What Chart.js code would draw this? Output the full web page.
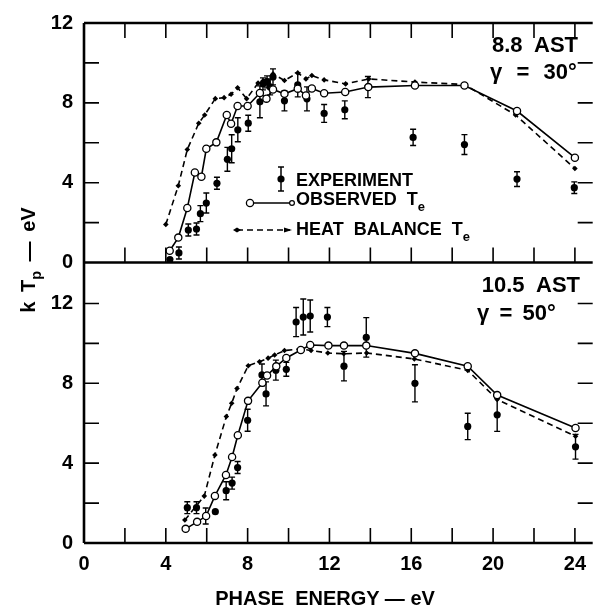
<!DOCTYPE html>
<html><head><meta charset="utf-8">
<script src="https://cdn.jsdelivr.net/npm/chart.js@4"></script>
<style>
html,body{margin:0;padding:0;background:#fff;}
#wrap{position:relative;width:598px;height:612px;overflow:hidden;font-family:"Liberation Sans",Arial,sans-serif;font-weight:bold;color:#000;}
#c{position:absolute;left:0;top:0;}
.t{position:absolute;white-space:pre;line-height:1;}
.sub{font-size:0.72em;position:relative;top:0.45em;}
#leg{position:absolute;left:0;top:0;}
</style></head><body>
<div id="wrap">
<canvas id="c" width="598" height="612"></canvas>
<svg id="leg" width="598" height="612">
  <line x1="281" y1="167" x2="281" y2="191" stroke="#000" stroke-width="1.5"/>
  <line x1="278" y1="167" x2="284" y2="167" stroke="#000" stroke-width="1.5"/>
  <line x1="278" y1="191" x2="284" y2="191" stroke="#000" stroke-width="1.5"/>
  <circle cx="281" cy="179" r="3.6" fill="#000"/>
  <line x1="250" y1="203" x2="292" y2="203" stroke="#000" stroke-width="1.6"/>
  <circle cx="250" cy="203" r="3.6" fill="#fff" stroke="#000" stroke-width="1.3"/>
  <circle cx="292" cy="203" r="2.4" fill="#fff" stroke="#000" stroke-width="1.2"/>
  <line x1="237" y1="230" x2="290" y2="230" stroke="#000" stroke-width="1.6" stroke-dasharray="6,4"/>
  <path d="M233,230 L237,227.5 L241,230 L237,232.5 Z" fill="#000"/>
  <path d="M284,227.5 L292,230 L284,232.5 Z" fill="#000"/>
</svg>
<div class="t" style="left:296px;top:171px;font-size:18px;">EXPERIMENT</div>
<div class="t" style="left:296px;top:190px;font-size:18px;">OBSERVED  T<span class="sub">e</span></div>
<div class="t" style="left:296px;top:220px;font-size:18px;">HEAT  BALANCE  T<span class="sub">e</span></div>
<div class="t" style="right:20px;top:34px;font-size:22px;">8.8  AST</div>
<div class="t" style="left:490px;top:61px;font-size:22px;word-spacing:1px;">γ  =  30°</div>
<div class="t" style="right:18px;top:274px;font-size:22px;">10.5  AST</div>
<div class="t" style="left:477px;top:302px;font-size:22px;word-spacing:-1px;">γ  =  50°</div>
<div class="t" style="left:325px;top:588px;font-size:20px;transform:translateX(-50%);">PHASE  ENERGY — eV</div>
<div class="t" style="left:28px;top:260px;font-size:20px;word-spacing:4px;transform:translate(-50%,-50%) rotate(-90deg);">k T<span class="sub">p</span> — eV</div>
</div>
<script>
// ---- Data ----
// Top panel: 8.8 AST, gamma = 30 deg
const topExpEnergy = [4.2, 4.64, 5.1, 5.5, 5.69, 5.98, 6.5, 7.01, 7.22, 7.52, 8.03, 8.6, 8.75, 8.95, 9.1, 9.24, 9.8, 10.45, 10.9, 11.74, 12.75, 13.88, 16.09, 18.6, 21.17, 23.97];
const topExpTp     = [0.15, 0.48, 1.63, 1.68, 2.45, 2.98, 3.97, 5.17, 5.7, 6.65, 6.98, 8.05, 8.95, 9.05, 8.8, 9.3, 8.1, 8.9, 8.2, 7.47, 7.65, 8.79, 6.27, 5.91, 4.18, 3.75];
const topExpErr    = [0, 0.3, 0.3, 0.3, 0.4, 0.5, 0.3, 0.6, 0.7, 0.6, 0.4, 0.8, 0.3, 0.3, 0.4, 0.4, 0.5, 0.6, 0.6, 0.45, 0.45, 0.53, 0.41, 0.5, 0.37, 0.29];
const topObsEnergy = [4.19, 4.61, 5.05, 5.42, 5.74, 5.98, 6.47, 6.98, 7.19, 7.51, 8.0, 8.6, 8.92, 9.24, 9.8, 10.45, 10.85, 11.14, 11.74, 12.77, 13.9, 16.18, 18.6, 21.17, 24.0];
const topObsTe     = [0.59, 1.25, 2.73, 4.51, 4.3, 5.7, 6.02, 7.39, 6.95, 7.84, 7.84, 8.49, 8.21, 8.67, 8.45, 8.71, 8.37, 8.72, 8.48, 8.54, 8.79, 8.87, 8.87, 7.59, 5.25];
const topHeatEnergy = [4.0, 4.61, 5.05, 5.61, 5.9, 6.42, 6.85, 7.19, 7.51, 7.95, 8.51, 8.75, 9.24, 9.8, 10.45, 10.85, 11.14, 11.74, 12.79, 13.92, 16.18, 18.6, 21.1, 24.0];
const topHeatTe     = [1.91, 3.85, 5.66, 6.98, 7.39, 8.21, 8.26, 8.43, 8.76, 8.21, 8.99, 9.1, 9.45, 9.12, 9.5, 9.2, 9.37, 9.15, 8.95, 9.2, 9.04, 8.92, 7.39, 4.71];
// Bottom panel: 10.5 AST, gamma = 50 deg
const botExpEnergy = [5.05, 5.5, 5.95, 6.42, 6.95, 7.24, 7.51, 8.0, 8.7, 8.9, 9.38, 9.89, 10.37, 10.72, 11.06, 11.9, 12.71, 13.8, 16.18, 18.76, 20.2, 24.03];
const botExpTp     = [1.77, 1.77, 1.35, 1.57, 2.62, 3.0, 3.78, 6.15, 8.42, 7.47, 8.66, 8.7, 11.07, 11.32, 11.37, 11.32, 8.86, 10.3, 8.0, 5.84, 6.42, 4.82];
const botExpErr    = [0.3, 0.3, 0.4, 0, 0.45, 0.3, 0.3, 0.55, 0.55, 0.6, 0.5, 0.35, 0.73, 0.9, 0.8, 0.48, 0.74, 0.99, 0.93, 0.66, 0.83, 0.62];
const botObsEnergy = [4.97, 5.53, 5.97, 6.4, 6.94, 7.24, 7.52, 8.02, 8.72, 8.95, 9.4, 9.89, 10.6, 11.06, 11.95, 12.71, 13.8, 16.18, 18.76, 20.2, 24.03];
const botObsTe     = [0.71, 1.06, 1.35, 2.36, 3.41, 4.31, 5.4, 7.12, 8.03, 8.39, 8.85, 9.27, 9.67, 9.92, 9.89, 9.89, 9.89, 9.5, 8.86, 7.41, 5.76];
const botHeatEnergy = [4.93, 5.88, 6.4, 6.96, 7.22, 7.48, 8.03, 8.58, 9.0, 9.32, 9.8, 10.6, 11.1, 11.92, 12.7, 13.82, 16.15, 18.76, 20.2, 24.03];
const botHeatTe     = [1.15, 2.35, 4.41, 6.34, 7.0, 7.74, 8.88, 9.08, 9.26, 9.42, 9.64, 9.72, 9.64, 9.52, 9.48, 9.52, 9.22, 8.65, 7.19, 5.35];
// Axes
const xRange = [0, 24.87];
const topRange = [0, 12];
const botRange = [0, 14.05];
const tickStep = 2;
const labelStep = 4;

const pts = (xs, ys) => xs.map((x, i) => ({x: x, y: ys[i]}));
const FONT = {family: '"Liberation Sans", Arial, sans-serif', size: 20, weight: 'bold'};

function obsSet(xs, ys, axis) {
  return {data: pts(xs, ys), yAxisID: axis, showLine: true, borderColor: '#000', borderWidth: 1.6,
    pointStyle: 'circle', pointRadius: 3.6, pointBackgroundColor: '#fff', pointBorderColor: '#000', pointBorderWidth: 1.3, tension: 0};
}
function heatSet(xs, ys, axis) {
  return {data: pts(xs, ys), yAxisID: axis, showLine: true, borderColor: '#000', borderWidth: 1.6, borderDash: [6, 4],
    pointStyle: 'rectRot', pointRadius: 2.8, pointBackgroundColor: '#000', pointBorderColor: '#000', pointBorderWidth: 0, tension: 0};
}
function expSet(xs, ys, errs, axis) {
  return {data: pts(xs, ys), errs: errs, yAxisID: axis, showLine: false,
    pointStyle: 'circle', pointRadius: 3.6, pointBackgroundColor: '#000', pointBorderColor: '#000', pointBorderWidth: 0};
}

const errorBars = {
  id: 'errorBars',
  beforeDatasetsDraw(chart) {
    const ctx = chart.ctx;
    ctx.save();
    ctx.strokeStyle = '#000';
    ctx.lineWidth = 1.4;
    chart.data.datasets.forEach(ds => {
      if (!ds.errs) return;
      const xs = chart.scales.x, ys = chart.scales[ds.yAxisID];
      ds.data.forEach((p, i) => {
        const e = ds.errs[i];
        if (!e) return;
        const px = xs.getPixelForValue(p.x);
        const y1 = ys.getPixelForValue(p.y - e), y2 = ys.getPixelForValue(p.y + e);
        ctx.beginPath();
        ctx.moveTo(px, y1); ctx.lineTo(px, y2);
        ctx.moveTo(px - 3, y1); ctx.lineTo(px + 3, y1);
        ctx.moveTo(px - 3, y2); ctx.lineTo(px + 3, y2);
        ctx.stroke();
      });
    });
    ctx.restore();
  }
};

const frame = {
  id: 'frame',
  afterDraw(chart) {
    const ctx = chart.ctx, ca = chart.chartArea;
    const xs = chart.scales.x, yt = chart.scales.yTop, yb = chart.scales.yBot;
    const mid = yt.getPixelForValue(topRange[0]);
    const L = 15;
    ctx.save();
    ctx.strokeStyle = '#000';
    ctx.lineWidth = 1.6;
    ctx.beginPath();
    xs.ticks.forEach(t => {
      if (t.value <= 0) return;
      const px = xs.getPixelForValue(t.value);
      ctx.moveTo(px, ca.top); ctx.lineTo(px, ca.top + L);
      ctx.moveTo(px, mid); ctx.lineTo(px, mid - L);
      ctx.moveTo(px, ca.bottom); ctx.lineTo(px, ca.bottom - L);
    });
    [yt, yb].forEach(s => {
      s.ticks.forEach(t => {
        if (t.value <= 0 || t.value >= s.max - 0.5) return;
        const py = s.getPixelForValue(t.value);
        ctx.moveTo(ca.left, py); ctx.lineTo(ca.left + L, py);
        ctx.moveTo(ca.right, py); ctx.lineTo(ca.right - L, py);
      });
    });
    ctx.stroke();
    ctx.lineWidth = 2.6;
    ctx.beginPath();
    ctx.moveTo(ca.left, ca.top); ctx.lineTo(ca.right, ca.top);
    ctx.moveTo(ca.left, ca.top); ctx.lineTo(ca.left, ca.bottom);
    ctx.moveTo(ca.left, ca.bottom); ctx.lineTo(ca.right, ca.bottom);
    ctx.moveTo(ca.left, mid); ctx.lineTo(ca.right, mid);
    ctx.stroke();
    ctx.restore();
  }
};

const yTickCfg = {
  font: FONT, color: '#000', padding: 11, stepSize: tickStep, autoSkip: false, includeBounds: false,
  callback: v => (Math.abs(v % labelStep) < 1e-6 ? String(v) : '')
};

new Chart(document.getElementById('c'), {
  type: 'scatter',
  data: {
    datasets: [
      obsSet(topObsEnergy, topObsTe, 'yTop'),
      heatSet(topHeatEnergy, topHeatTe, 'yTop'),
      expSet(topExpEnergy, topExpTp, topExpErr, 'yTop'),
      obsSet(botObsEnergy, botObsTe, 'yBot'),
      heatSet(botHeatEnergy, botHeatTe, 'yBot'),
      expSet(botExpEnergy, botExpTp, botExpErr, 'yBot')
    ]
  },
  options: {
    responsive: false, animation: false, devicePixelRatio: 1,
    layout: {padding: {top: 14, right: 0, left: 0, bottom: 0}},
    plugins: {legend: {display: false}, tooltip: {enabled: false}},
    scales: {
      x: {
        type: 'linear', position: 'bottom', min: xRange[0], max: xRange[1],
        afterFit: s => { s.height = 69; },
        grid: {display: false, drawTicks: false}, border: {display: false},
        ticks: {font: FONT, color: '#000', padding: 9, stepSize: tickStep, autoSkip: false, includeBounds: false, maxRotation: 0,
          callback: v => (Math.abs(v % labelStep) < 1e-6 ? String(v) : '')}
      },
      yTop: {
        type: 'linear', position: 'left', stack: 'panels', stackWeight: topRange[1] - topRange[0], weight: 2,
        min: topRange[0], max: topRange[1],
        afterFit: s => { s.width = 84; },
        grid: {display: false, drawTicks: false}, border: {display: false},
        ticks: yTickCfg
      },
      yBot: {
        type: 'linear', position: 'left', stack: 'panels', stackWeight: botRange[1] - botRange[0], weight: 1,
        min: botRange[0], max: botRange[1],
        afterFit: s => { s.width = 84; },
        grid: {display: false, drawTicks: false}, border: {display: false},
        ticks: yTickCfg
      }
    }
  },
  plugins: [errorBars, frame]
});
</script>
</body></html>
